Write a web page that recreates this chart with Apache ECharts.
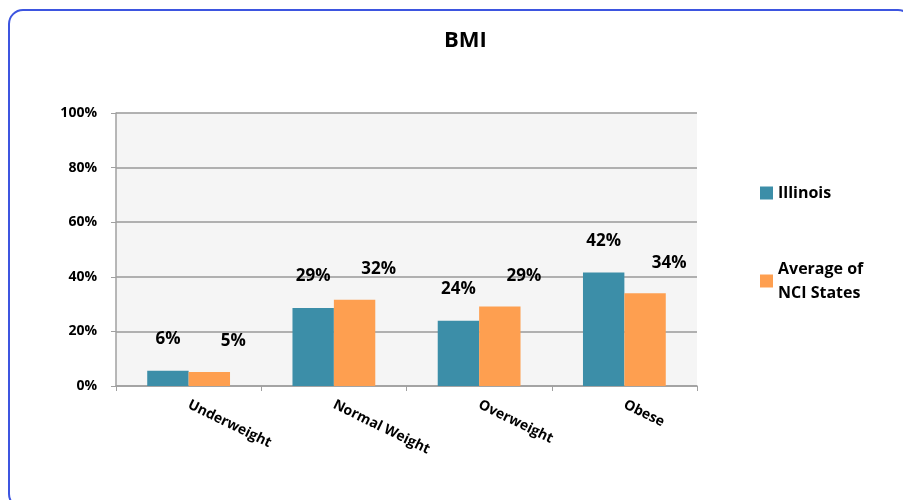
<!DOCTYPE html>
<html>
<head>
<meta charset="utf-8">
<script src="https://cdn.jsdelivr.net/npm/echarts@6/dist/echarts.min.js"></script>
<style>
html, body { margin: 0; padding: 0; background: #fff; }
#main { width: 903px; height: 500px; }
</style>
</head>
<body>
<div id="main"></div>
<script>
var categories = ['Underweight', 'Normal Weight', 'Overweight', 'Obese'];
var illinois = [5.6, 28.6, 23.9, 41.6];
var nciAverage = [5.1, 31.6, 29.1, 34.0];
var yTicks = [0, 20, 40, 60, 80, 100];

var fontFam = '"Open Sans", "Liberation Sans", sans-serif';

function pctLabel(p) {
    return Math.round(p.value) + '%';
}

var myChart = echarts.init(document.getElementById('main'));
var option = {
    backgroundColor: '#fff',
    animation: false,
    title: {
        text: 'BMI',
        left: 439,
        top: 25,
        textStyle: { fontFamily: fontFam, fontSize: 22, fontWeight: 'bold', color: '#000' }
    },
    graphic: [{
        type: 'rect',
        shape: { x: 9, y: 10, width: 903, height: 498, r: 14 },
        style: { fill: 'none', stroke: '#3d55e0', lineWidth: 2 },
        z: 100
    }],
    legend: [{
        orient: 'vertical',
        left: 755,
        top: 180,
        icon: 'rect',
        itemWidth: 13,
        itemHeight: 13,
        data: ['Illinois'],
        textStyle: { fontFamily: fontFam, fontSize: 16, fontWeight: 'bold', color: '#000' }
    }, {
        orient: 'vertical',
        left: 755,
        top: 240,
        icon: 'rect',
        itemWidth: 13,
        itemHeight: 13,
        data: ['Average of NCI States'],
        formatter: function () { return 'Average of\nNCI States'; },
        textStyle: {
            fontFamily: fontFam, fontSize: 16, fontWeight: 'bold', color: '#000',
            lineHeight: 24, padding: [24, 0, 0, 0]
        }
    }],
    grid: {
        left: 116,
        top: 113,
        right: 206,
        bottom: 114,
        show: true,
        backgroundColor: '#f5f5f5',
        borderWidth: 0
    },
    xAxis: {
        type: 'category',
        data: categories,
        axisLine: { lineStyle: { color: '#a0a0a0', width: 1.5 } },
        axisTick: { show: true, length: 5, alignWithLabel: false, lineStyle: { color: '#a0a0a0' } },
        axisLabel: {
            rotate: -26,
            margin: 18,
            interval: 0,
            fontFamily: fontFam,
            fontSize: 14,
            fontWeight: 'bold',
            color: '#000'
        }
    },
    yAxis: {
        type: 'value',
        min: yTicks[0],
        max: yTicks[yTicks.length - 1],
        interval: 20,
        axisLine: { show: true, lineStyle: { color: '#a0a0a0', width: 1.5 } },
        axisTick: { show: true, length: 5, lineStyle: { color: '#a0a0a0' } },
        splitLine: { lineStyle: { color: '#999', width: 1.5 } },
        axisLabel: {
            margin: 19,
            fontFamily: fontFam,
            fontSize: 14,
            fontWeight: 'bold',
            color: '#000',
            formatter: '{value}%'
        }
    },
    series: [{
        name: 'Illinois',
        type: 'bar',
        data: illinois,
        barGap: '0%',
        barCategoryGap: '43%',
        itemStyle: { color: '#3c8ea8' },
        label: {
            show: true,
            position: 'top',
            offset: [0, -18],
            formatter: pctLabel,
            fontFamily: fontFam,
            fontSize: 17,
            fontWeight: 'bold',
            color: '#000'
        }
    }, {
        name: 'Average of NCI States',
        type: 'bar',
        data: nciAverage,
        itemStyle: { color: '#fe9f50' },
        label: {
            show: true,
            position: 'top',
            offset: [24, -17],
            formatter: pctLabel,
            fontFamily: fontFam,
            fontSize: 17,
            fontWeight: 'bold',
            color: '#000'
        }
    }]
};
myChart.setOption(option);
</script>
</body>
</html>
